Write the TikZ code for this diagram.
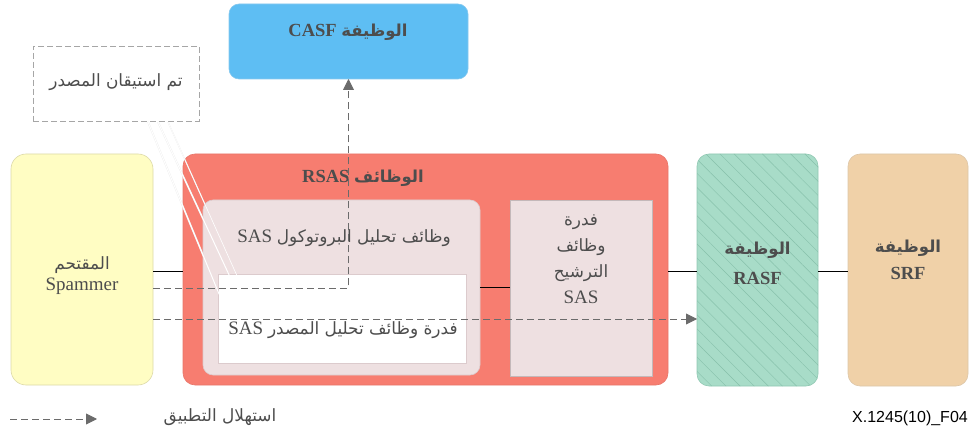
\documentclass[tikz,border=0pt]{standalone}
\usepackage{fontspec}
\setmainfont{Liberation Serif}
\newfontfamily\arabicfont[Script=Arabic,Scale=0.89]{DejaVu Sans}
\newfontfamily\sanslabel{Liberation Sans}
\TeXXeTstate=1
\usetikzlibrary{arrows.meta,patterns.meta,calc}
\definecolor{txtgray}{HTML}{4D4D4D}
\definecolor{casfblue}{HTML}{5EBEF3}
\definecolor{casfedge}{HTML}{86C8EE}
\definecolor{spamyellow}{HTML}{FFFDC3}
\definecolor{spamedge}{HTML}{DCD9A8}
\definecolor{rsassalmon}{HTML}{F77D70}
\definecolor{rsasedge}{HTML}{E8766A}
\definecolor{innerpink}{HTML}{EEE0E1}
\definecolor{inneredge}{HTML}{DCCBCD}
\definecolor{filteredge}{HTML}{C4B8B9}
\definecolor{rasfgreen}{HTML}{A8DCC8}
\definecolor{rasfedge}{HTML}{90C8B2}
\definecolor{hatch}{HTML}{86C0AA}
\definecolor{srftan}{HTML}{F0D1A8}
\definecolor{srfedge}{HTML}{DCC6A8}
\definecolor{flowgray}{HTML}{6B6B6B}
\newcommand{\ar}[1]{{\arabicfont #1}}
\begin{document}
\begin{tikzpicture}[x=1pt,y=-1pt,
  boxbase/.style={inner sep=0pt, outer sep=0pt, line width=0.6pt},
  txt/.style={text=txtgray, align=center, inner sep=0pt, font=\fontsize{19}{26}\selectfont},
  btxt/.style={text=txtgray, align=center, inner sep=0pt, font=\fontsize{18.5}{30}\selectfont\bfseries},
  flow/.style={draw=flowgray, line width=0.9pt, dash pattern=on 7pt off 4pt, -{Triangle[length=11pt,width=11pt]}},
  solidlink/.style={draw=black, line width=0.7pt},
  pointershade/.style={draw=black!8, line width=1.6pt},
  pointer/.style={draw=white, line width=1.0pt}
]
\useasboundingbox (0,0) rectangle (969,438);

% boxes
\node[boxbase, draw=casfedge, fill=casfblue, rounded corners=10pt, minimum width=239pt, minimum height=75pt] (casf) at (348.5,41.5) {};
\node[boxbase, draw=black!35, dash pattern=on 6pt off 3pt, fill=white, minimum width=166pt, minimum height=75pt] (callout) at (116,83.5) {};
\node[boxbase, draw=spamedge, fill=spamyellow, rounded corners=15pt, minimum width=142pt, minimum height=231pt] (spammer) at (82,269.5) {};
\node[boxbase, draw=rsasedge, fill=rsassalmon, rounded corners=12pt, minimum width=485pt, minimum height=231pt] (rsas) at (425.5,269.5) {};

% callout pointers (shade below the inner boxes)
\coordinate (p1) at (148,122);
\coordinate (p2) at (158,122);
\coordinate (p3) at (168,122);
\coordinate (q1) at (229,318);
\coordinate (q2) at (237,292);
\coordinate (q3) at (238,278);
\draw[pointershade] (p1) -- (q1);
\draw[pointershade] (p2) -- (q2);
\draw[pointershade, line width=1.1pt] (p3) -- (q3);

\node[boxbase, draw=inneredge, fill=innerpink, rounded corners=10pt, minimum width=277pt, minimum height=175pt] (inner) at (341.5,287.5) {};
\node[boxbase, draw=inneredge, fill=white, minimum width=248pt, minimum height=89pt] (source) at (342,318.5) {};
\node[boxbase, draw=filteredge, fill=innerpink, minimum width=142pt, minimum height=176pt] (filter) at (581,288) {};
\node[boxbase, draw=rasfedge, fill=rasfgreen, rounded corners=12pt, minimum width=121pt, minimum height=232pt,
  postaction={pattern={Lines[angle=-45,distance=10pt,line width=0.45pt]}, pattern color=hatch}] (rasf) at (757.5,270) {};
\node[boxbase, draw=srfedge, fill=srftan, rounded corners=12pt, minimum width=120pt, minimum height=232pt] (srf) at (908,270) {};

\draw[pointer] (p1) -- (q1);
\draw[pointer] (p2) -- (q2);
\draw[pointer, line width=0.6pt] (p3) -- (q3);

% texts
\node[btxt] (casft) at (348,32) {\beginR\ar{الوظيفة} CASF\endR};
\node[txt] (calloutt) at (116,82) {\beginR\ar{تم استيقان المصدر}\endR};
\node[txt, font=\fontsize{19}{21}\selectfont] (spammert) at (82,276) {\beginR\ar{المقتحم}\endR\\Spammer};
\node[btxt] (rsast) at (363,178) {\beginR\ar{الوظائف} RSAS\endR};
\node[txt] (innert) at (344,238) {\beginR\ar{وظائف تحليل البروتوكول} SAS\endR};
\node[txt] (sourcet) at (343,330) {\beginR\ar{فدرة وظائف تحليل المصدر} SAS\endR};
\node[txt] (filtert) at (581,259) {\beginR\ar{فدرة}\endR\\\beginR\ar{وظائف}\endR\\\beginR\ar{الترشيح}\endR\\SAS};
\node[btxt] (rasft) at (757.5,263) {\beginR\ar{الوظيفة}\endR\\RASF};
\node[btxt, font=\fontsize{18.5}{27}\selectfont\bfseries] (srft) at (908,259.5) {\beginR\ar{الوظيفة}\endR\\SRF};
\node[txt] (legendt) at (220,417) {\beginR\ar{استهلال التطبيق}\endR};
\node[text=black, inner sep=0pt, font=\sanslabel\fontsize{16}{18}\selectfont] (figid) at (910,418) {X.1245(10)\_F04};

% solid links
\coordinate (r0) at (0,271);
\coordinate (r3) at (0,287);
\draw[solidlink] (spammer.east |- r0) -- (rsas.west |- r0);
\draw[solidlink] (inner.east |- r3) -- (filter.west |- r3);
\draw[solidlink] (rsas.east |- r0) -- (rasf.west |- r0);
\draw[solidlink] (rasf.east |- r0) -- (srf.west |- r0);

% flows
\coordinate (r1) at (0,288);
\coordinate (r2) at (0,319);
\draw[flow] (spammer.east |- r1) -| (casf.south);
\draw[flow] (spammer.east |- r2) -- (rasf.west |- r2);

% legend
\coordinate (l1) at (10,419);
\coordinate (l2) at (97,419);
\draw[flow] (l1) -- (l2);
\end{tikzpicture}
\end{document}
